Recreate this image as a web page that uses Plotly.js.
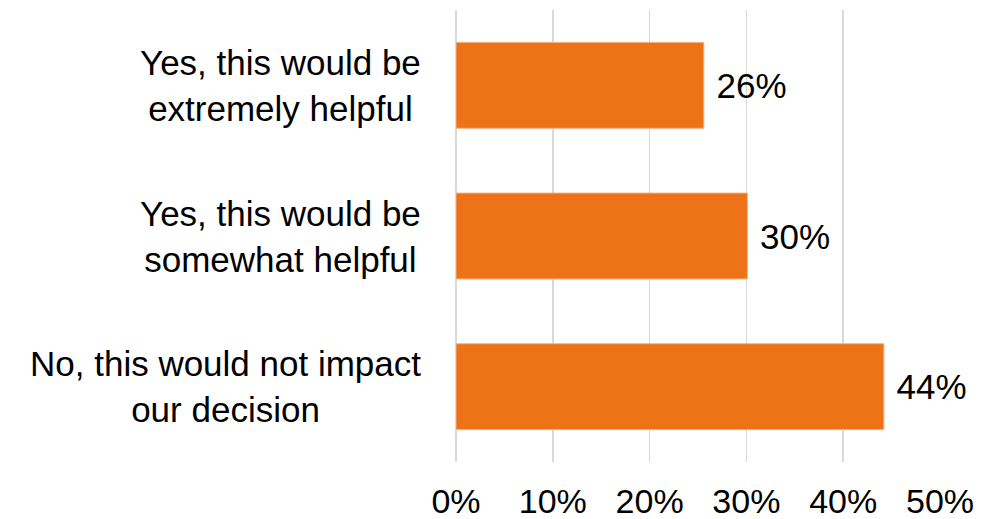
<!DOCTYPE html>
<html>
<head>
<meta charset="utf-8">
<script src="https://cdn.plot.ly/plotly-3.0.1.min.js"></script>
<style>html,body{margin:0;padding:0;background:#fff;}#chart{width:997px;height:519px;}</style>
</head>
<body>
<div id="chart"></div>
<script>
var categories = [
  "Yes, this would be<br>extremely helpful",
  "Yes, this would be<br>somewhat helpful",
  "No, this would not impact<br>our decision"
];
var values = [25.6, 30.1, 44.2];
var valueLabels = ["26%", "30%", "44%"];
var tickValues = [0, 10, 20, 30, 40, 50];
var tickLabels = ["0%", "10%", "20%", "30%", "40%", "50%"];

var FONT = "Liberation Sans, Arial, sans-serif";
var catIds = categories.map(function(c, i){ return "c" + i; });

var trace = {
  type: "bar",
  orientation: "h",
  y: catIds,
  x: values,
  text: valueLabels.map(function(t){ return "\u00a0" + t; }),
  textposition: "outside",
  cliponaxis: false,
  textfont: {family: FONT, size: 35, color: "#000"},
  marker: {color: "#ED7218", line: {color: "#F4B183", width: 1}},
  hoverinfo: "none"
};

var annotations = categories.map(function(c, i){
  return {
    xref: "paper", yref: "y", x: 0, y: catIds[i],
    xanchor: "right", yanchor: "middle", xshift: -33,
    text: c, showarrow: false, align: "center",
    font: {family: FONT, size: 35, color: "#000"}
  };
});

var layout = {
  width: 997, height: 519,
  margin: {l: 456, r: 57, t: 10, b: 57},
  paper_bgcolor: "#fff", plot_bgcolor: "#fff",
  bargap: 0.43,
  showlegend: false,
  font: {family: FONT, color: "#000"},
  xaxis: {
    range: [0, 50], tickvals: tickValues, ticktext: tickLabels,
    showgrid: true, gridcolor: "#D9D9D9", gridwidth: 1.5,
    zeroline: true, zerolinecolor: "#D9D9D9", zerolinewidth: 1.5,
    showline: false,
    ticks: "", ticklabelstandoff: 16,
    tickfont: {family: FONT, size: 34, color: "#000"},
    fixedrange: true
  },
  yaxis: {
    autorange: "reversed", showticklabels: false,
    showgrid: false, zeroline: false, showline: false, ticks: "",
    fixedrange: true
  },
  annotations: annotations
};

Plotly.newPlot("chart", [trace], layout, {displayModeBar: false, staticPlot: true});
</script>
</body>
</html>
